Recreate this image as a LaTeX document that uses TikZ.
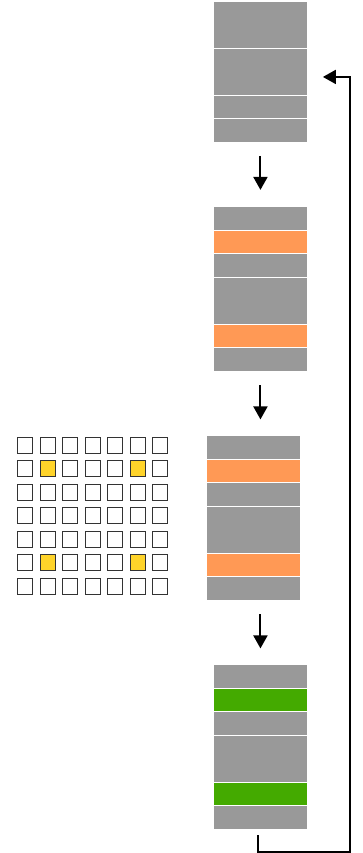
\documentclass[tikz,border=0pt]{standalone}
\usetikzlibrary{arrows.meta}
\definecolor{segray}{HTML}{999999}
\definecolor{segorange}{HTML}{FF9955}
\definecolor{seggreen}{HTML}{44AA00}
\definecolor{cellyellow}{HTML}{FFD42A}
\begin{document}
\begin{tikzpicture}[x=1pt,y=-1pt,
    seg/.style={draw=white,line width=.9pt,inner sep=0,anchor=north west,minimum width=94pt,minimum height=#1*23.5pt},
    cell/.style={draw=black!80,line width=.9pt,inner sep=0,minimum width=15pt,minimum height=16pt},
    arr/.style={line width=2pt,-{Triangle[width=14pt,length=13pt]}}]
    \useasboundingbox (0,0) rectangle (362,853);
    % four buffers
    \foreach \u/\n/\c [count=\k] in {0/2/segray,2/2/segray,4/1/segray,5/1/segray} {
        \node[seg=\n,fill=\c] (b1-\k) at (213,{1+\u*23.5}) {};
    }
    \foreach \u/\n/\c [count=\k] in {0/1/segray,1/1/segorange,2/1/segray,3/2/segray,5/1/segorange,6/1/segray} {
        \node[seg=\n,fill=\c] (b2-\k) at (213,{206+\u*23.5}) {};
    }
    \foreach \u/\n/\c [count=\k] in {0/1/segray,1/1/segorange,2/1/segray,3/2/segray,5/1/segorange,6/1/segray} {
        \node[seg=\n,fill=\c] (b3-\k) at (206,{435+\u*23.5}) {};
    }
    \foreach \u/\n/\c [count=\k] in {0/1/segray,1/1/seggreen,2/1/segray,3/2/segray,5/1/seggreen,6/1/segray} {
        \node[seg=\n,fill=\c] (b4-\k) at (213,{664+\u*23.5}) {};
    }
    % 7x7 grid
    \foreach \r in {0,...,6} {
        \foreach \c in {0,...,6} {
            \pgfmathtruncatemacro\hit{(\r==1||\r==5)&&(\c==1||\c==5)}
            \ifnum\hit=1 \def\fc{cellyellow}\else\def\fc{white}\fi
            \node[cell,fill=\fc] (g\r\c) at ({25+\c*22.5},{445+\r*23.5}) {};
        }
    }
    % arrows
    \draw[arr] ([yshift=-13pt]b1-4.south) -- ++(0,34);
    \draw[arr] ([yshift=-14pt]b2-6.south) -- ++(0,34);
    \draw[arr] ([xshift=7pt,yshift=-14pt]b3-6.south) -- ++(0,34);
    \draw[arr] ([xshift=-2pt,yshift=-6pt]b4-6.south) |- ++(92,17) |- ([xshift=15pt,yshift=-5pt]b1-2.east);
\end{tikzpicture}
\end{document}
